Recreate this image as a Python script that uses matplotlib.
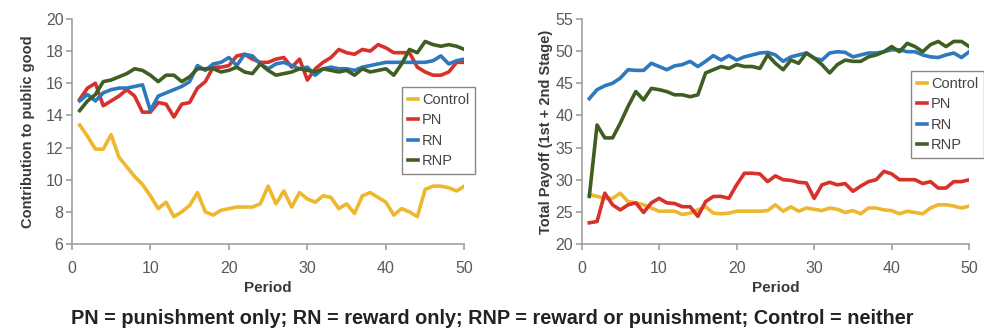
import matplotlib
matplotlib.use("Agg")
import matplotlib.pyplot as plt
import numpy as np

plt.rcParams['font.family'] = ['Liberation Sans', 'DejaVu Sans']

periods = list(range(1, 51))

contrib_control = [13.4, 12.7, 11.9, 11.9, 12.8, 11.4, 10.8, 10.2, 9.7, 9.0,
                   8.2, 8.6, 7.7, 8.0, 8.4, 9.2, 8.0, 7.8, 8.1, 8.2,
                   8.3, 8.3, 8.3, 8.5, 9.6, 8.5, 9.3, 8.3, 9.2, 8.8,
                   8.6, 9.0, 8.9, 8.2, 8.5, 7.9, 9.0, 9.2, 8.9, 8.6,
                   7.8, 8.2, 8.0, 7.7, 9.4, 9.6, 9.6, 9.5, 9.3, 9.6]
contrib_pn = [15.0, 15.7, 16.0, 14.6, 14.9, 15.2, 15.6, 15.2, 14.2, 14.2,
              14.8, 14.7, 13.9, 14.7, 14.8, 15.7, 16.1, 17.0, 17.0, 17.1,
              17.7, 17.8, 17.5, 17.3, 17.3, 17.5, 17.6, 17.0, 17.5, 16.2,
              16.9, 17.3, 17.6, 18.1, 17.9, 17.8, 18.1, 18.0, 18.4, 18.2,
              17.9, 17.9, 17.9, 17.0, 16.7, 16.5, 16.5, 16.7, 17.3, 17.3]
contrib_rn = [14.9, 15.3, 14.9, 15.4, 15.6, 15.7, 15.7, 15.8, 15.9, 14.3,
              15.2, 15.4, 15.6, 15.8, 16.1, 17.1, 16.8, 17.2, 17.3, 17.6,
              17.1, 17.8, 17.7, 17.2, 16.9, 17.2, 17.3, 17.1, 16.9, 17.0,
              16.5, 16.9, 17.0, 16.9, 16.9, 16.8, 17.0, 17.1, 17.2, 17.3,
              17.3, 17.3, 17.3, 17.3, 17.3, 17.4, 17.7, 17.2, 17.4, 17.5]
contrib_rnp = [14.3, 14.9, 15.3, 16.1, 16.2, 16.4, 16.6, 16.9, 16.8, 16.5,
               16.1, 16.5, 16.5, 16.1, 16.4, 16.9, 16.9, 16.9, 16.7, 16.8,
               17.0, 16.7, 16.6, 17.2, 16.8, 16.5, 16.6, 16.7, 16.9, 16.8,
               16.7, 16.9, 16.8, 16.7, 16.8, 16.5, 16.9, 16.7, 16.8, 16.9,
               16.5, 17.2, 18.1, 17.9, 18.6, 18.4, 18.3, 18.4, 18.3, 18.1]

payoff_control = [27.7, 27.4, 27.1, 27.1, 27.9, 26.6, 26.4, 26.1, 25.6, 25.1,
                  25.1, 25.1, 24.6, 24.8, 25.3, 25.8, 24.8, 24.7, 24.8, 25.1,
                  25.1, 25.1, 25.1, 25.2, 26.1, 25.1, 25.8, 25.1, 25.6, 25.4,
                  25.2, 25.6, 25.4, 24.9, 25.2, 24.7, 25.6, 25.6, 25.3, 25.2,
                  24.7, 25.1, 24.9, 24.7, 25.6, 26.1, 26.1, 25.9, 25.6, 25.9]
payoff_pn = [23.3, 23.5, 27.9, 26.1, 25.3, 26.1, 26.4, 24.9, 26.4, 27.1,
             26.4, 26.3, 25.8, 25.8, 24.3, 26.6, 27.4, 27.4, 27.1, 29.2,
             31.0, 31.0, 30.9, 29.7, 30.6, 30.0, 29.9, 29.6, 29.5, 27.1,
             29.2, 29.6, 29.2, 29.4, 28.2, 29.0, 29.7, 30.0, 31.3, 30.9,
             30.0, 30.0, 30.0, 29.4, 29.7, 28.7, 28.7, 29.7, 29.7, 30.0]
payoff_rn = [42.6, 44.0, 44.6, 45.0, 45.8, 47.1, 47.0, 47.0, 48.1, 47.6,
             47.1, 47.7, 47.9, 48.4, 47.6, 48.4, 49.3, 48.6, 49.3, 48.6,
             49.1, 49.4, 49.7, 49.8, 49.4, 48.4, 49.1, 49.4, 49.7, 48.9,
             48.6, 49.7, 49.9, 49.8, 49.1, 49.4, 49.7, 49.7, 49.9, 50.2,
             50.2, 49.9, 49.9, 49.4, 49.1, 49.0, 49.4, 49.7, 49.0, 49.9]
payoff_rnp = [27.4, 38.5, 36.5, 36.5, 38.8, 41.4, 43.7, 42.4, 44.2, 44.0,
              43.7, 43.2, 43.2, 42.9, 43.2, 46.6, 47.1, 47.6, 47.3, 47.9,
              47.6, 47.6, 47.3, 49.4, 48.1, 47.1, 48.6, 48.1, 49.7, 48.9,
              47.9, 46.6, 47.9, 48.6, 48.4, 48.4, 49.1, 49.4, 49.9, 50.7,
              49.9, 51.2, 50.7, 49.9, 51.0, 51.5, 50.7, 51.5, 51.5, 50.7]

series_names = ['Control', 'PN', 'RN', 'RNP']
colors = ['#EDB72E', '#D8312B', '#2E78BE', '#3F5F22']

caption = "PN = punishment only; RN = reward only; RNP = reward or punishment; Control = neither"

fig = plt.figure(figsize=(9.84, 3.32), dpi=100)
ax1 = fig.add_axes([0.073, 0.265, 0.399, 0.678])
ax2 = fig.add_axes([0.591, 0.265, 0.394, 0.678])

def style(ax, ylim, yticks, ylabel, ylabelpad):
    ax.set_xlim(0, 50)
    ax.set_ylim(*ylim)
    ax.set_xticks([0, 10, 20, 30, 40, 50])
    ax.set_yticks(yticks)
    for s in ['top', 'right']:
        ax.spines[s].set_visible(False)
    for s in ['left', 'bottom']:
        ax.spines[s].set_color('#a0a0a0')
        ax.spines[s].set_linewidth(1.2)
    ax.tick_params(axis='both', colors='#a0a0a0', labelcolor='#5a5a5a',
                   labelsize=11.5, length=4, width=1.2, direction='out')
    ax.tick_params(axis='x', pad=8)
    ax.tick_params(axis='y', pad=2)
    ax.set_xlabel('Period', fontsize=11, fontweight='bold', color='#3a3a3a', labelpad=4)
    ax.set_ylabel(ylabel, fontsize=10.5, fontweight='bold', color='#3a3a3a', labelpad=ylabelpad)

data1 = [contrib_control, contrib_pn, contrib_rn, contrib_rnp]
data2 = [payoff_control, payoff_pn, payoff_rn, payoff_rnp]

for d, c, n in zip(data1, colors, series_names):
    ax1.plot(periods, d, color=c, lw=2.6, label=n, solid_joinstyle='round')
for d, c, n in zip(data2, colors, series_names):
    ax2.plot(periods, d, color=c, lw=2.6, label=n, solid_joinstyle='round')

style(ax1, (6, 20), [6, 8, 10, 12, 14, 16, 18, 20], 'Contribution to public good', 8)
style(ax2, (20, 55), [20, 25, 30, 35, 40, 45, 50, 55], 'Total Payoff (1st + 2nd Stage)', 2)

for ax, anchor in [(ax1, (0.842, 0.698)), (ax2, (0.85, 0.769))]:
    leg = ax.legend(loc='upper left', bbox_to_anchor=anchor, fontsize=10.5,
                    handlelength=0.7, handletextpad=0.25, borderpad=0.4,
                    labelspacing=0.45, fancybox=False, framealpha=1,
                    borderaxespad=0)
    leg.get_frame().set_edgecolor('#888888')
    leg.get_frame().set_linewidth(1.0)
    for t in leg.get_texts():
        t.set_color('#444444')
    for h in leg.get_lines():
        h.set_linewidth(2.6)

fig.text(0.5, 0.042, caption, ha='center', va='center', fontsize=14.3,
         fontweight='bold', color='#222222')

fig.savefig('out.png', dpi=100)
